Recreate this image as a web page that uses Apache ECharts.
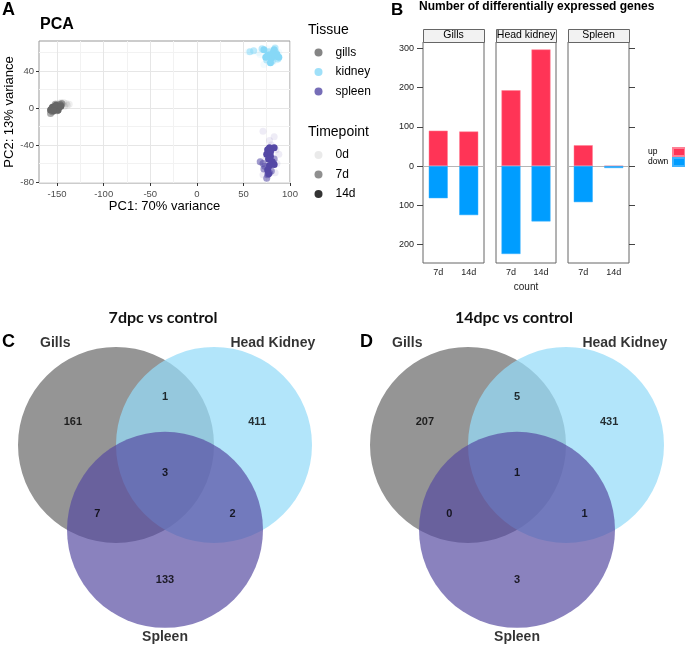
<!DOCTYPE html>
<html><head><meta charset="utf-8">
<script src="https://cdn.jsdelivr.net/npm/echarts@6/dist/echarts.min.js"></script>
<style>html,body{margin:0;padding:0;background:#fff}#c{width:685px;height:645px}</style>
</head><body><div id="c"></div>
<script>
// ---------- Panel A: PCA points (PC1, PC2) ----------
const pcaGills0d  = [[-144,4],[-140,5],[-137,4],[-142,2],[-146,6],[-150,5],[-155,-2],[-148,1],[-143,6],[-139,3]];
const pcaGills7d  = [[-157,-6],[-155,-4],[-152,4],[-149,-2],[-146,3],[-145,5],[-150,-3],[-153,0],[-147,4],[-156,-1]];
const pcaGills14d = [[-157,-2],[-155,1],[-153,-1],[-152,2],[-150,0],[-149,-2],[-148,1],[-151,3],[-154,-3],[-146,2]];
const pcaKidney0d  = [[55,61],[66,60],[72,47],[80,62],[88,60],[78,57],[82,50],[85,52],[68,58],[76,64]];
const pcaKidney7d  = [[57,61],[61,62],[70,64],[75,52],[78,58],[85,60],[81,51],[87,53],[77,61],[84,65]];
const pcaKidney14d = [[72,63],[76,57],[80,54],[82,60],[84,56],[86,58],[79,49],[74,55],[83,63],[88,55]];
const pcaSpleen0d  = [[71,-25],[83,-31],[88,-50],[85,-45],[71,-72],[80,-40],[86,-60],[74,-55],[84,-70],[78,-35]];
const pcaSpleen7d  = [[68,-58],[71,-60],[73,-63],[78,-70],[80,-68],[72,-66],[76,-72],[83,-55],[79,-48],[75,-76]];
const pcaSpleen14d = [[76,-45],[78,-43],[83,-43],[75,-50],[79,-52],[77,-55],[81,-58],[83,-61],[78,-62],[76,-67],[77,-71],[79,-47]];
const pcaTissues = ['gills','kidney','spleen'];
const pcaTimepoints = ['0d','7d','14d'];
const pcaXTicks = [-150,-100,-50,0,50,100];
const pcaXMinor = [-125,-75,-25,25,75];
const pcaYTicks = [-80,-40,0,40];
const pcaYMinor = [-60,-20,20,60];

// ---------- Panel B: number of DEGs ----------
const degTimepoints = ['7d','14d'];
const degTissues = ['Gills','Head kidney','Spleen'];
const degUpGills = [90, 88];
const degDownGills = [82, 125];
const degUpHeadKidney = [193, 297];
const degDownHeadKidney = [224, 141];
const degUpSpleen = [53, 0];
const degDownSpleen = [92, 5];
const degYTicks = [-200,-100,0,100,200,300];

// ---------- Panels C, D: Venn counts ----------
const vennSets = ['Gills','Head Kidney','Spleen'];
const vennRegions = ['Gills only','Gills & Kidney','Kidney only','All three','Gills & Spleen','Kidney & Spleen','Spleen only'];
const venn7dpc  = [161, 1, 411, 3, 7, 2, 133];
const venn14dpc = [207, 5, 431, 1, 0, 1, 3];

// ---------- layout / style (not data) ----------
const FONT = 'Liberation Sans, Arial, sans-serif';
const tissueColors = {gills:'#666666', kidney:'#87d8f7', spleen:'#5448a5'};
const timeAlpha = {'0d':0.1, '7d':0.55, '14d':1};
const upColor = '#ff3456', downColor = '#009dff';
const vennCircleCenters = [[-0.5,0.289],[0.5,0.289],[0,-0.577]];
const vennRadius = 1;
const vennFills = ['#959595','rgba(150,220,248,0.73)','rgba(85,74,161,0.69)'];
const vennRegionPos = [[-0.94,0.52],[0,0.78],[0.94,0.52],[0,0],[-0.69,-0.41],[0.69,-0.41],[0,-1.09]];
const vennSetPos = [[-1.12,1.33],[1.10,1.33],[0,-1.67]];
const degPanels = [{left:423,width:61},{left:496,width:60},{left:568,width:61}];
const degTop = 42, degHeight = 221;

function pts(arr, tp){ return arr.map(p => ({value:p, itemStyle:{opacity: timeAlpha[tp]}})); }
const pcaData = {
  gills: [].concat(pts(pcaGills0d,'0d'), pts(pcaGills7d,'7d'), pts(pcaGills14d,'14d')),
  kidney: [].concat(pts(pcaKidney0d,'0d'), pts(pcaKidney7d,'7d'), pts(pcaKidney14d,'14d')),
  spleen: [].concat(pts(pcaSpleen0d,'0d'), pts(pcaSpleen7d,'7d'), pts(pcaSpleen14d,'14d'))
};
const degUp = [degUpGills, degUpHeadKidney, degUpSpleen];
const degDown = [degDownGills, degDownHeadKidney, degDownSpleen];

const grids = [
  {left:39, top:41, width:251, height:142, show:true, borderColor:'#999', borderWidth:1, backgroundColor:'#fff'}
];
degPanels.forEach(p => grids.push({left:p.left, top:degTop, width:p.width, height:degHeight, show:true, borderColor:'#666', borderWidth:1}));
grids.push({left:8.2, top:316.5, width:313.6, height:328.3});
grids.push({left:360.2, top:316.5, width:313.6, height:328.3});

const xAxes = [
  {type:'value', gridIndex:0, min:-169.4, max:100,
   axisLine:{show:false, onZero:false},
   axisTick:{show:true, customValues:pcaXTicks, length:3, lineStyle:{color:'#333'}},
   axisLabel:{customValues:pcaXTicks, fontSize:9.5, color:'#4d4d4d', margin:6, fontFamily:FONT},
   splitLine:{show:true, lineStyle:{color:'#e6e6e6', width:1}},
   name:'PC1: 70% variance', nameLocation:'middle', nameGap:17,
   nameTextStyle:{fontSize:13, color:'#000', fontFamily:FONT}},
  {type:'value', gridIndex:0, min:-169.4, max:100, position:'bottom',
   axisLine:{show:false, onZero:false}, axisLabel:{show:false},
   axisTick:{show:false, customValues:pcaXMinor},
   splitLine:{show:true, lineStyle:{color:'#f2f2f2', width:1}}}
];
const yAxes = [
  {type:'value', gridIndex:0, min:-81, max:72.5, position:'left',
   axisLine:{show:false, onZero:false},
   axisTick:{show:true, customValues:pcaYTicks, length:3, lineStyle:{color:'#333'}},
   axisLabel:{customValues:pcaYTicks, fontSize:9.5, color:'#4d4d4d', margin:5, fontFamily:FONT},
   splitLine:{show:true, lineStyle:{color:'#e6e6e6', width:1}},
   name:'PC2: 13% variance', nameLocation:'middle', nameGap:17,
   nameTextStyle:{fontSize:13, color:'#000', fontFamily:FONT}},
  {type:'value', gridIndex:0, min:-81, max:72.5, position:'left',
   axisLine:{show:false, onZero:false}, axisLabel:{show:false},
   axisTick:{show:false, customValues:pcaYMinor},
   splitLine:{show:true, lineStyle:{color:'#f2f2f2', width:1}}}
];
degTissues.forEach((t,i) => {
  xAxes.push({type:'category', gridIndex:1+i, data:degTimepoints, position:'bottom',
    axisLine:{show:false, onZero:false}, axisTick:{show:false},
    axisLabel:{fontSize:9, color:'#222', margin:5, fontFamily:FONT}, splitLine:{show:false}});
  yAxes.push({type:'value', gridIndex:1+i, min:-247, max:316, show:i===0, position:'left',
    axisLine:{show:false, onZero:false},
    axisTick:{show:true, customValues:degYTicks, length:6, lineStyle:{color:'#444'}},
    axisLabel:{customValues:degYTicks, formatter:v => String(Math.abs(v)), fontSize:9, color:'#222', margin:9, fontFamily:FONT},
    splitLine:{show:false}});
});
yAxes.push({type:'value', gridIndex:3, position:'right', min:-247, max:316,
  axisLine:{show:false, onZero:false}, axisLabel:{show:false},
  axisTick:{show:true, customValues:degYTicks, length:6, lineStyle:{color:'#444'}},
  splitLine:{show:false}});
[4,5].forEach(g => {
  xAxes.push({type:'value', gridIndex:g, min:-1.6, max:1.6, show:false, axisLine:{onZero:false}});
  yAxes.push({type:'value', gridIndex:g, min:-1.75, max:1.6, show:false, axisLine:{onZero:false}});
});

const series = [];
pcaTissues.forEach(t => series.push({
  type:'scatter', name:t, xAxisIndex:0, yAxisIndex:0, symbolSize:7,
  itemStyle:{color:tissueColors[t]}, data:pcaData[t], silent:true
}));
pcaTimepoints.forEach(tp => series.push({
  type:'scatter', name:tp, xAxisIndex:0, yAxisIndex:0, data:[],
  itemStyle:{color:'rgba(0,0,0,' + timeAlpha[tp] + ')'}
}));
degTissues.forEach((t,i) => {
  // zero reference line, drawn beneath the bars
  series.push({type:'line', xAxisIndex:2+i, yAxisIndex:2+i, data:[], z:1, silent:true,
    markLine:{silent:true, z:1, symbol:['none','none'], label:{show:false},
      lineStyle:{color:'#b5b5b5', width:1, type:'solid'}, data:[{yAxis:0}]}});
  series.push({type:'bar', name:'up', xAxisIndex:2+i, yAxisIndex:2+i, stack:'s'+i, barWidth:19, z:6,
    data:degUp[i], itemStyle:{color:upColor, borderColor:'#ff8095', borderWidth:0.5}});
  series.push({type:'bar', name:'down', xAxisIndex:2+i, yAxisIndex:2+i, stack:'s'+i, barWidth:19, z:6,
    data:degDown[i].map(v => -v), itemStyle:{color:downColor, borderColor:'#3db3ff', borderWidth:0.5}});
});
function vennSeries(counts, xi, yi){
  return [
    {type:'custom', xAxisIndex:xi, yAxisIndex:yi, silent:true, data:vennCircleCenters,
     renderItem:(params, api) => {
       const c = api.coord([api.value(0), api.value(1)]);
       const r = api.size([vennRadius, 0])[0];
       return {type:'circle', shape:{cx:c[0], cy:c[1], r:r}, style:{fill:vennFills[params.dataIndex]}};
     }},
    {type:'scatter', xAxisIndex:xi, yAxisIndex:yi, symbolSize:0, silent:true, z:5,
     data:vennRegionPos.map((p,i) => [p[0], p[1], counts[i]]),
     label:{show:true, position:'inside', formatter:p => String(p.value[2]),
       fontSize:11, fontWeight:'bold', color:'#000', textBorderWidth:0, fontFamily:FONT}},
    {type:'scatter', xAxisIndex:xi, yAxisIndex:yi, symbolSize:0, silent:true, z:5,
     data:vennSetPos.map((p,i) => ({value:p, name:vennSets[i]})),
     label:{show:true, position:'inside', formatter:p => p.name,
       fontSize:14, fontWeight:'bold', color:'#000', textBorderWidth:0, fontFamily:FONT}}
  ];
}
series.push(...vennSeries(venn7dpc, 5, 6));
series.push(...vennSeries(venn14dpc, 6, 7));

const graphic = [
  {type:'text', x:2, y:10, style:{text:'A', font:'bold 18px ' + FONT, fill:'#000', verticalAlign:'middle'}},
  {type:'text', x:40, y:25, style:{text:'PCA', font:'bold 16px ' + FONT, fill:'#000', verticalAlign:'middle'}},
  {type:'text', x:308, y:30, style:{text:'Tissue', font:'14px ' + FONT, fill:'#000', verticalAlign:'middle'}},
  {type:'text', x:308, y:132, style:{text:'Timepoint', font:'14px ' + FONT, fill:'#000', verticalAlign:'middle'}},
  {type:'text', x:391, y:10, style:{text:'B', font:'bold 17px ' + FONT, fill:'#000', verticalAlign:'middle'}},
  {type:'text', x:419, y:7, style:{text:'Number of differentially expressed genes', font:'bold 12px ' + FONT, fill:'#000', verticalAlign:'middle'}},
  {type:'text', x:526, y:287, style:{text:'count', font:'10px ' + FONT, fill:'#222', align:'center', verticalAlign:'middle'}},
  {type:'text', x:2, y:342, style:{text:'C', font:'bold 18px ' + FONT, fill:'#000', verticalAlign:'middle'}},
  {type:'text', x:360, y:342, style:{text:'D', font:'bold 18px ' + FONT, fill:'#000', verticalAlign:'middle'}},
  {type:'text', x:163, y:318, style:{text:'7dpc vs control', font:'bold 16px Lato, ' + FONT, fill:'#111', align:'center', verticalAlign:'middle'}},
  {type:'text', x:514, y:318, style:{text:'14dpc vs control', font:'bold 16px Lato, ' + FONT, fill:'#111', align:'center', verticalAlign:'middle'}}
];
degPanels.forEach((p,i) => {
  graphic.push({type:'rect', shape:{x:p.left+0.5, y:29.5, width:p.width, height:degTop-29}, style:{fill:'#f2f2f2', stroke:'#666', lineWidth:1}});
  graphic.push({type:'text', x:p.left + p.width/2, y:35.5, style:{text:degTissues[i], font:'10.5px ' + FONT, fill:'#000', align:'center', verticalAlign:'middle'}});
});

const option = {
  animation:false,
  backgroundColor:'#fff',
  textStyle:{fontFamily:FONT},
  grid:grids, xAxis:xAxes, yAxis:yAxes, series:series, graphic:graphic,
  legend:[
    {data:pcaTissues, orient:'vertical', left:314.5, top:45.5, padding:0, itemGap:5.5,
     icon:'circle', itemWidth:8, itemHeight:8, selectedMode:false,
     textStyle:{fontSize:12, color:'#000', lineHeight:14, padding:[0,0,0,8], fontFamily:FONT}},
    {data:pcaTimepoints, orient:'vertical', left:314.5, top:148, padding:0, itemGap:5.5,
     icon:'circle', itemWidth:8, itemHeight:8, selectedMode:false,
     textStyle:{fontSize:12, color:'#000', lineHeight:14, padding:[0,0,0,8], fontFamily:FONT}},
    {data:['up','down'], orient:'vertical', left:648, top:147, padding:0, itemGap:0,
     icon:'rect', itemWidth:12, itemHeight:8, align:'right', selectedMode:false,
     formatter:'{t|{name}}',
     textStyle:{fontSize:8.5, color:'#000', lineHeight:8, fontFamily:FONT,
       rich:{t:{width:20, align:'left', fontSize:8.5, lineHeight:8}}}}
  ]
};
const chart = echarts.init(document.getElementById('c'));
chart.setOption(option);
</script></body></html>
